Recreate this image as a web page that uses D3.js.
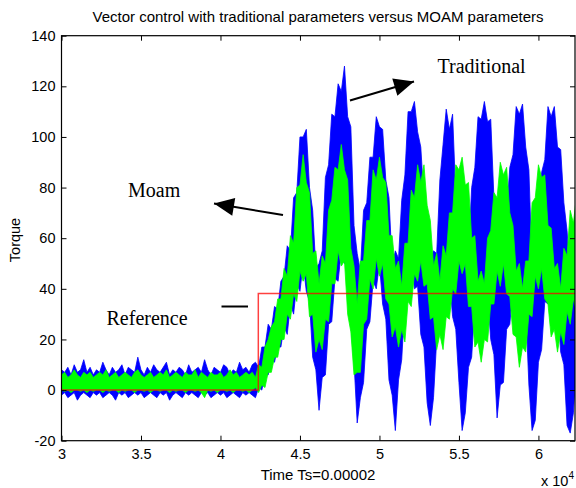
<!DOCTYPE html>
<html><head><meta charset="utf-8">
<script src="https://cdn.jsdelivr.net/npm/d3@7"></script>
<style>body{margin:0;background:#fff}svg{display:block}</style>
</head><body><svg id="c" width="576" height="488"></svg>
<script>
// ---- data (time in units of 10^4 samples) ----
const xTicks = [3, 3.5, 4, 4.5, 5, 5.5, 6];
const yTicks = [-20, 0, 20, 40, 60, 80, 100, 120, 140];

const flatTime = [3.00,3.02,3.04,3.06,3.08,3.10,3.12,3.14,3.16,3.18,
3.20,3.22,3.24,3.26,3.28,3.30,3.32,3.34,3.36,3.38,
3.40,3.42,3.44,3.46,3.48,3.50,3.52,3.54,3.56,3.58,
3.60,3.62,3.64,3.66,3.68,3.70,3.72,3.74,3.76,3.78,
3.80,3.82,3.84,3.86,3.88,3.90,3.92,3.94,3.96,3.98,
4.00,4.02,4.04,4.06,4.08,4.10,4.12,4.14,4.16,4.18,4.20];
const dynTime = [4.22,4.24,4.26,4.28,4.30,4.32,4.34,4.36,4.38,4.40,
4.42,4.44,4.46,4.48,4.50,4.52,4.54,4.56,4.58,4.60,
4.62,4.64,4.66,4.68,4.70,4.72,4.74,4.76,4.78,4.80,
4.82,4.84,4.86,4.88,4.90,4.92,4.94,4.96,4.98,5.00,
5.02,5.04,5.06,5.08,5.10,5.12,5.14,5.16,5.18,5.20,
5.22,5.24,5.26,5.28,5.30,5.32,5.34,5.36,5.38,5.40,
5.42,5.44,5.46,5.48,5.50,5.52,5.54,5.56,5.58,5.60,
5.62,5.64,5.66,5.68,5.70,5.72,5.74,5.76,5.78,5.80,
5.82,5.84,5.86,5.88,5.90,5.92,5.94,5.96,5.98,6.00,
6.02,6.04,6.06,6.08,6.10,6.12,6.14,6.16,6.18,6.20,6.22,6.24];

// Traditional (blue) upper / lower envelopes
const tradHiFlat = [8,7,9,6,10,7,8,12,7,9,6,8,7,11,8,6,9,7,8,10,6,9,8,7,13,8,6,9,7,10,8,7,9,11,6,8,7,9,8,6,10,7,8,9,7,12,8,6,9,8,7,10,9,6,8,7,11,8,9,7,10];
const tradLoFlat = [-2,-1,-3,-2,-1,-4,-2,-1,-2,-3,-1,-2,-1,-3,-2,-1,-2,-4,-1,-2,-1,-3,-2,-1,-2,-1,-3,-2,-1,-2,-3,-1,-2,-1,-4,-2,-1,-2,-3,-1,-2,-1,-2,-3,-1,-2,-1,-3,-2,-1,-2,-1,-3,-2,-1,-2,-3,-1,-2,-1,-2];
const tradHiDyn = [11,9,17,17,26,24,33,32,43,45,
57,55,76,78,100,100,103,80,71,48,
50,55,84,89,109,108,121,118,128,108,
104,65,54,47,71,74,92,92,108,104,
103,83,76,49,55,52,75,85,110,110,
114,102,96,75,71,51,55,54,83,97,
111,103,109,77,71,50,55,54,80,88,
108,107,114,106,107,76,61,46,63,70,
88,93,112,109,113,96,87,48,55,64,
86,91,112,108,112,96,95,74,63,44,64,69];
const tradLoDyn = [-3,1,0,6,6,12,11,17,17,25,
22,34,30,42,39,50,39,35,13,8,
-8,5,6,26,27,44,43,55,50,51,
26,11,-13,-3,3,24,27,43,40,50,
34,28,4,-2,-16,4,12,35,38,51,
40,41,22,17,-5,-14,-3,20,26,44,
40,45,29,24,3,-16,-9,9,13,34,
34,47,38,38,20,14,-11,2,3,24,
26,41,37,47,37,32,2,-16,-12,11,
16,35,34,46,35,34,15,10,-14,-17,-9,11];

// MOAM (green) upper / lower envelopes
const moamHiFlat = [6,7,5,6,8,6,5,7,6,7,5,6,7,6,8,5,6,7,5,6,7,6,5,7,8,6,5,6,7,5,6,7,6,8,5,6,7,6,5,7,6,6,8,5,7,6,5,7,6,6,7,5,6,8,6,7,5,6,7,6,7];
const moamLoFlat = [0,-0.5,0,-1,0,0,-0.5,0,-1,0,-0.5,0,0,-1,0,-0.5,0,0,-1,0,-0.5,0,0,-1,0,0,-0.5,0,-1,0,0,-0.5,0,0,-1,0,-0.5,0,0,-1,0,0,-0.5,0,-1,-3,0,-0.5,0,-1,0,0,-0.5,0,-1,0,0,-0.5,0,-1,0];
const moamHiDyn = [5,10,9,17,20,25,27,36,36,48,
45,61,58,80,81,93,82,78,54,55,
42,53,50,71,75,88,87,97,87,83,
56,49,34,51,51,67,67,87,83,92,
84,82,61,61,48,51,41,58,58,79,
76,89,82,89,73,67,49,54,43,57,
53,70,70,89,87,92,81,82,60,61,
43,47,42,60,63,78,76,90,85,88,
70,65,47,50,40,51,51,74,76,89,
84,85,65,64,48,50,40,56,53,71,66,77];
const moamLoDyn = [1,-1,2,1,7,7,13,13,20,20,
30,28,38,35,47,43,46,29,30,15,
20,16,28,27,42,42,55,49,51,30,
23,6,7,7,26,28,44,40,52,45,
50,36,34,21,25,17,24,19,35,33,
46,43,51,41,42,28,29,16,22,16,
29,28,40,38,51,46,50,33,33,17,
19,11,20,19,34,34,47,41,50,38,
37,22,21,9,17,15,30,29,45,40,
48,36,34,21,24,15,23,18,31,26,36,31];

// Reference step
const refTime = [3, 4.238, 4.238, 6.23];
const refValue = [0, 0, 38.2, 38.2];

// ---- drawing ----
const svg = d3.select('#c');
const L = 61.5, R = 575, T = 35.7, B = 440.7;
const x = d3.scaleLinear().domain([3, 6.23]).range([L, R]);
const y = d3.scaleLinear().domain([-20, 140]).range([B, T]);

svg.append('defs').append('clipPath').attr('id','clip')
  .append('rect').attr('x',L).attr('y',T).attr('width',R-L).attr('height',B-T);

const time = flatTime.concat(dynTime);
function series(hi, lo){ return time.map((t,i)=>({t, hi:hi[i], lo:lo[i]})); }
const trad = series(tradHiFlat.concat(tradHiDyn), tradLoFlat.concat(tradLoDyn));
const moam = series(moamHiFlat.concat(moamHiDyn), moamLoFlat.concat(moamLoDyn));

const area = d3.area().x(d=>x(d.t)).y0(d=>y(d.lo)).y1(d=>y(d.hi));
const g = svg.append('g').attr('clip-path','url(#clip)');
g.append('path').datum(trad).attr('d',area).attr('fill','#0000ff').attr('stroke','#0000ff').attr('stroke-width',0.8);
g.append('path').datum(moam).attr('d',area).attr('fill','#00ff00').attr('stroke','#00ff00').attr('stroke-width',0.8);
const ref = refTime.map((t,i)=>({t, v:refValue[i]}));
g.append('path').datum(ref).attr('d', d3.line().x(d=>x(d.t)).y(d=>y(d.v)))
  .attr('fill','none').attr('stroke','#ff0000').attr('stroke-opacity',0.75).attr('stroke-width',1.5);

// axes
const font = '"Liberation Sans", Arial, sans-serif';
function styleAxis(sel){ sel.select('.domain').remove(); sel.selectAll('line').attr('stroke','#000'); sel.selectAll('text').attr('font-family',font).attr('font-size',14.5).attr('fill','#000'); }
svg.append('g').attr('transform',`translate(0,${B})`)
  .call(d3.axisBottom(x).tickValues(xTicks).tickSize(-5).tickPadding(8.5).tickFormat(d=>String(d))).call(styleAxis);
svg.append('g').attr('transform',`translate(0,${T})`)
  .call(d3.axisTop(x).tickValues(xTicks).tickSize(-5).tickFormat('')).call(styleAxis);
svg.append('g').attr('transform',`translate(${L},0)`)
  .call(d3.axisLeft(y).tickValues(yTicks).tickSize(-5).tickPadding(6).tickFormat(d=>String(d))).call(styleAxis);
svg.append('g').attr('transform',`translate(${R},0)`)
  .call(d3.axisRight(y).tickValues(yTicks).tickSize(-5).tickFormat('')).call(styleAxis);
svg.append('rect').attr('x',L).attr('y',T).attr('width',R-L).attr('height',B-T)
  .attr('fill','none').attr('stroke','#000').attr('stroke-width',1.2);

// labels
svg.append('text').attr('x',318).attr('y',22).attr('text-anchor','middle')
  .attr('font-family',font).attr('font-size',15).text('Vector control with traditional parameters versus MOAM parameters');
svg.append('text').attr('x',318).attr('y',480).attr('text-anchor','middle')
  .attr('font-family',font).attr('font-size',15).text('Time Ts=0.00002');
svg.append('text').attr('transform','translate(20,240) rotate(-90)').attr('text-anchor','middle')
  .attr('font-family',font).attr('font-size',14.5).text('Torque');
const xe = svg.append('text').attr('x',541).attr('y',486).attr('font-family',font).attr('font-size',14.5);
xe.append('tspan').text('x 10');
xe.append('tspan').attr('dy',-7).attr('font-size',10).text('4');

// annotations
const serif = '"Liberation Serif", "Times New Roman", serif';
svg.append('text').attr('x',437.5).attr('y',73).attr('font-family',serif).attr('font-size',20).text('Traditional');
svg.append('text').attr('x',128).attr('y',197).attr('font-family',serif).attr('font-size',20).text('Moam');
svg.append('text').attr('x',106.5).attr('y',325).attr('font-family',serif).attr('font-size',20).text('Reference');

function arrow(x1,y1,x2,y2){
  svg.append('line').attr('x1',x1).attr('y1',y1).attr('x2',x2).attr('y2',y2).attr('stroke','#000').attr('stroke-width',2);
  const a = Math.atan2(y2-y1, x2-x1), hl = 20, hw = 9;
  const bx = x2 - hl*Math.cos(a), by = y2 - hl*Math.sin(a);
  const px = -Math.sin(a)*hw, py = Math.cos(a)*hw;
  svg.append('polygon').attr('points',`${x2},${y2} ${bx+px},${by+py} ${bx-px},${by-py}`).attr('fill','#000');
}
arrow(350, 100.5, 414, 81.5);
arrow(283, 215, 214, 203.5);
svg.append('line').attr('x1',221.5).attr('y1',306.5).attr('x2',248).attr('y2',306.5).attr('stroke','#000').attr('stroke-width',2);
</script></body></html>
